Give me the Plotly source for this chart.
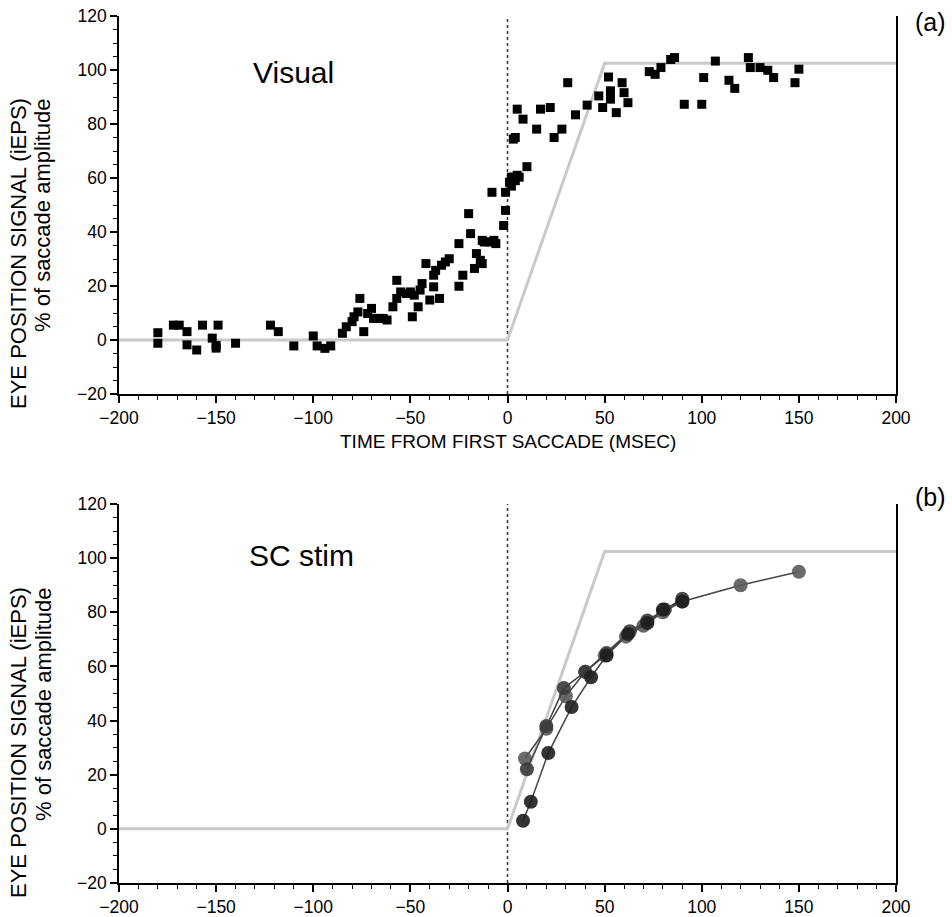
import plotly.graph_objects as go

# ---------------- data ----------------
# Panel (a): visual saccades, iEPS estimates (time ms, % amplitude)
vis_t = [-180, -180, -172, -169, -165, -165, -160, -157, -152, -150, -150, -149, -140,
         -122, -118, -110, -100, -98, -94, -91,
         -85, -83, -80, -79, -77, -76, -74, -72, -70, -69, -67, -64, -62, -59,
         -57, -57, -55, -52, -50, -49, -48, -46, -45, -44, -42, -40, -38, -38,
         -37, -35, -34, -32, -30, -25, -25, -23, -20, -19, -17, -16, -14, -13,
         -13, -12, -9, -8, -7, -6, -2, -1, -1, 1, 2, 2, 3, 4, 5, 6,
         3, 4, 5, 8, 10, 15, 17, 22, 24, 28, 31, 35, 41, 47, 49, 52, 53, 53, 56,
         59, 60, 62, 73, 76, 79, 84, 86, 91, 100, 101, 107, 114, 117, 124, 125,
         130, 134, 137, 148, 150]
vis_y = [2.7, -1.2, 5.5, 5.5, 3.1, -1.8, -3.7, 5.5, 0.7, -2.0, -3.0, 5.5, -1.2,
         5.5, 3.1, -2.2, 1.5, -2.2, -3.1, -2.2,
         2.5, 4.9, 6.8, 8.6, 10.4, 15.4, 3.1, 9.8, 11.7, 8.0, 8.0, 8.0, 7.4, 12.3,
         22.1, 15.4, 17.8, 17.2, 17.8, 8.6, 16.6, 12.3, 18.5, 20.9, 28.3, 14.8, 19.7, 24.0,
         25.8, 15.4, 27.7, 28.9, 30.1, 19.9, 35.7, 24.0, 46.8, 39.4, 26.5, 32.0, 29.5, 28.3,
         36.9, 36.3, 36.3, 54.7, 36.9, 35.7, 42.4, 48.0, 54.7, 58.4, 60.3, 57.0, 60.3, 59.0, 61.0, 60.3,
         74.4, 75.0, 85.5, 81.8, 64.2, 78.1, 85.5, 86.1, 75.0, 78.1, 95.3, 83.4, 87.0, 90.4, 86.1, 97.4, 92.3, 89.2, 84.2,
         95.3, 91.6, 87.9, 99.4, 98.4, 100.9, 103.9, 104.6, 87.3, 87.3, 97.2, 103.3, 96.2, 93.2, 104.6, 100.9,
         100.9, 99.9, 97.2, 95.3, 100.3]

# Model eye-position signal (ideal, gray)
model_t = [-200, 0, 50, 200]
model_y = [0, 0, 102.5, 102.5]

# Panel (b): SC stimulation, three runs
sc1_t = [8, 12, 21, 33, 43, 51, 62, 72, 80, 90]
sc1_y = [3, 10, 28, 45, 56, 64, 72, 76, 81, 84]
sc2_t = [10, 20, 29, 40, 51, 63, 72, 81, 90]
sc2_y = [22, 38, 52, 58, 65, 73, 77, 81, 85]
sc3_t = [9, 20, 30, 40, 50, 61, 70, 80, 90, 120, 150]
sc3_y = [26, 37, 49, 58, 64, 71, 75, 80, 84, 90, 95]

x_ticks = [-200, -150, -100, -50, 0, 50, 100, 150, 200]
y_ticks = [-20, 0, 20, 40, 60, 80, 100, 120]

FONT = "Liberation Sans, Arial, sans-serif"
GRAY = "#c9c9c9"
TICKSIZE = 17.5

fig = go.Figure()

# panel (a)
fig.add_trace(go.Scatter(x=model_t, y=model_y, mode="lines",
                         line=dict(color=GRAY, width=3), xaxis="x", yaxis="y",
                         showlegend=False, hoverinfo="skip"))
fig.add_trace(go.Scatter(x=vis_t, y=vis_y, mode="markers",
                         marker=dict(symbol="square", size=9, color="black"),
                         xaxis="x", yaxis="y", showlegend=False))

# panel (b)
fig.add_trace(go.Scatter(x=model_t, y=model_y, mode="lines",
                         line=dict(color=GRAY, width=3), xaxis="x2", yaxis="y2",
                         showlegend=False, hoverinfo="skip"))
for tt, yy, mc in [(sc3_t, sc3_y, "#5a5a5a"), (sc2_t, sc2_y, "#3a3a3a"), (sc1_t, sc1_y, "#1e1e1e")]:
    fig.add_trace(go.Scatter(x=tt, y=yy, mode="lines+markers",
                             line=dict(color="#444444", width=1.5),
                             marker=dict(symbol="circle", size=14, color=mc, opacity=0.9),
                             xaxis="x2", yaxis="y2", showlegend=False))

xdom = [119 / 952, 896 / 952]
ya_dom = [1 - 394 / 917, 1 - 16 / 917]
yb_dom = [1 - 883 / 917, 1 - 504 / 917]

def xax(anchor):
    return dict(domain=xdom, anchor=anchor, range=[-200, 200], tickvals=x_ticks,
                automargin=False,
                showgrid=False, zeroline=False, showline=True, linecolor="black", linewidth=1.5,
                ticks="outside", ticklen=7, tickwidth=1.5, tickcolor="black",
                minor=dict(dtick=10, tick0=0, ticks="outside", ticklen=4, tickwidth=1.2, tickcolor="black"),
                tickfont=dict(family=FONT, size=TICKSIZE, color="black"))

def yax(anchor, dom):
    return dict(domain=dom, anchor=anchor, range=[-20, 120], tickvals=y_ticks,
                automargin=False,
                showgrid=False, zeroline=False, showline=True, mirror=True,
                linecolor="black", linewidth=1.5,
                ticks="outside", ticklen=7, tickwidth=1.5, tickcolor="black",
                minor=dict(dtick=5, tick0=0, ticks="outside", ticklen=4, tickwidth=1.2, tickcolor="black"),
                tickfont=dict(family=FONT, size=TICKSIZE, color="black"))

fig.update_layout(
    width=952, height=917,
    margin=dict(l=0, r=0, t=0, b=0, autoexpand=False),
    paper_bgcolor="white", plot_bgcolor="white",
    font=dict(family=FONT, color="black"),
    xaxis=xax("y"), yaxis=yax("x", ya_dom),
    xaxis2=xax("y2"), yaxis2=yax("x2", yb_dom),
)

# dotted vertical line at saccade onset
for xr, yr in [("x", "y"), ("x2", "y2")]:
    fig.add_shape(type="line", xref=xr, yref=yr, x0=0, x1=0, y0=-20, y1=120,
                  line=dict(color="#333333", width=1.5, dash="dot"), layer="below")

def a(text, x, y, size, xref="paper", yref="paper", angle=0):
    return dict(text=text, xref=xref, yref=yref, x=x, y=y, showarrow=False,
                xanchor="center", yanchor="middle", textangle=angle,
                font=dict(family=FONT, size=size, color="black"))

ann = [
    a("Visual", -110, 99, 30, "x", "y"),
    a("SC stim", -106, 101, 30, "x2", "y2"),
    a("(a)", 930 / 952, 1 - 22 / 917, 25),
    a("(b)", 930 / 952, 1 - 497 / 917, 25),
    a("TIME FROM FIRST SACCADE (MSEC)", 508 / 952, 1 - 441 / 917, 19),
]
for top_off in [0, 489]:
    ann.append(a("EYE POSITION SIGNAL (iEPS)", 18 / 952, 1 - (254 + top_off) / 917, 22, angle=-90))
    ann.append(a("% of saccade amplitude", 43 / 952, 1 - (215 + top_off) / 917, 22, angle=-90))
fig.update_layout(annotations=ann)

fig.write_html("out.html")
